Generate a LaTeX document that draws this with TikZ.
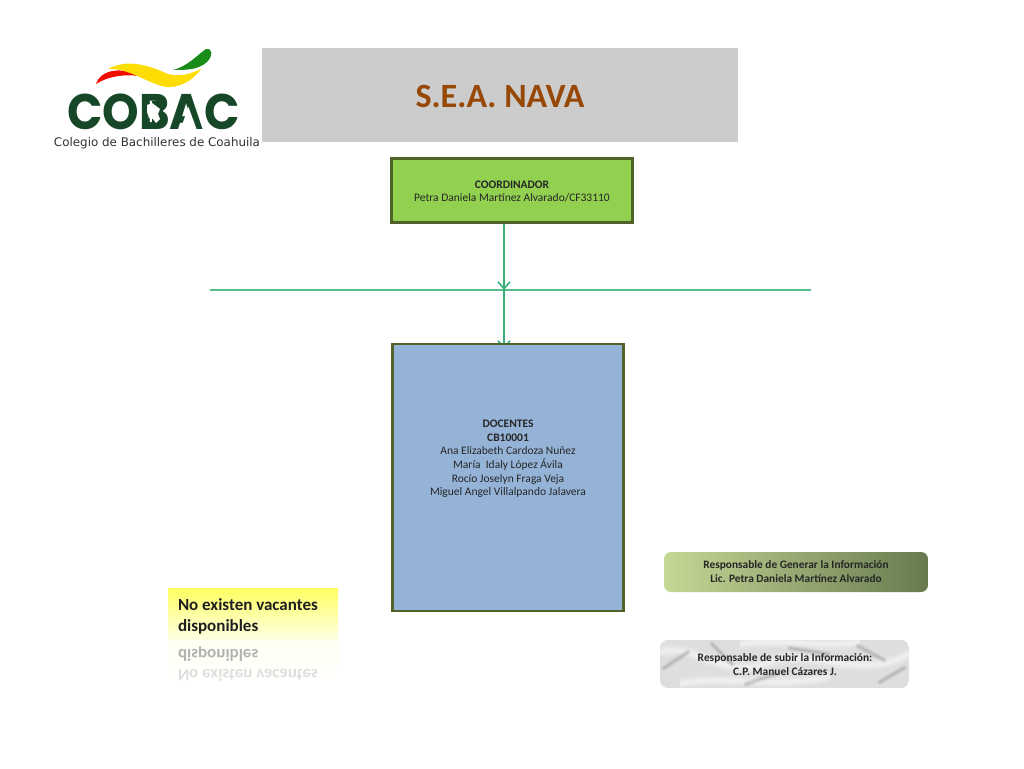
\documentclass[tikz,border=0pt]{standalone}
\usepackage{fontspec}
\setmainfont{Carlito}
\newfontfamily\logofont{Poppins}
\newfontfamily\logosub{DejaVu Sans}
\usetikzlibrary{arrows.meta,positioning,calc}
\definecolor{linkgreen}{RGB}{55,178,118}
\definecolor{hlinkgreen}{RGB}{85,190,140}
\definecolor{boxedge}{RGB}{79,98,40}
\definecolor{coordfill}{RGB}{146,208,80}
\definecolor{docfill}{RGB}{149,179,215}
\definecolor{titlegrey}{RGB}{204,204,204}
\definecolor{titletext}{RGB}{151,72,6}
\definecolor{cobacgreen}{RGB}{22,72,40}
\definecolor{genleft}{RGB}{198,216,150}
\definecolor{genright}{RGB}{103,122,78}
\tikzset{
  x=1pt,y=-1pt,
  every node/.style={inner sep=0pt,outer sep=0pt,align=center},
  orgbox/.style={draw=boxedge,line width=2.8pt},
  link/.style={draw=linkgreen,line width=1.5pt},
  tiplink/.style={link,-{Straight Barb[length=7pt,width=12pt,line width=1.6pt]}},
  smalltext/.style={font=\fontsize{11.5}{13.6}\selectfont,text=black!85},
}
\begin{document}
\begin{tikzpicture}
\useasboundingbox (0,0) rectangle (1024,768);
\fill[white] (0,0) rectangle (1024,768);

% title band
\node[fill=titlegrey,minimum width=476pt,minimum height=94pt] (title) at (500,95) {};
\node[font=\fontsize{34}{36}\selectfont\bfseries,text=titletext] (titletxt) at (500,96) {S.E.A. NAVA};

% logo swooshes
\fill[red!90!orange!95!black] (96,84) .. controls (100,70) and (122,66) .. (138,76)
   .. controls (126,74) and (108,76) .. (96,84) -- cycle;
\fill[yellow!80!orange] (108,69) .. controls (128,58) and (150,66) .. (168,74)
   .. controls (180,77) and (190,74) .. (201,69)
   .. controls (192,82) and (178,88) .. (166,87)
   .. controls (148,84) and (130,68) .. (108,69) -- cycle;
\fill[green!50!black!90] (173,70) .. controls (188,66) and (196,56) .. (206,49)
   .. controls (213,48) and (213,56) .. (207,62)
   .. controls (198,70) and (186,70) .. (173,70) -- cycle;
\node[font=\logofont\fontsize{50}{50}\selectfont\bfseries,text=cobacgreen,xscale=.93] (cobac) at (153.5,112) {COBAC};
% crossbar-free A and the state outline in the B
\fill[white] (188.5,107) -- (180.5,129) -- (196.5,129) -- cycle;
\fill[cobacgreen] (152,101) rectangle (163,124);
\fill[white] (147,105) -- (152,103) -- (156,106) -- (160,109) -- (158,114) -- (160,119) -- (156,123) -- (153,119) -- (149,118) -- (147,112) -- cycle;
\node[font=\logosub\fontsize{11.9}{12}\selectfont,text=black!80] (sub) at (157,143) {Colegio de Bachilleres de Coahuila};

% connectors
\coordinate (hleft) at (210,290);
\coordinate (hright) at (811,290);
\coordinate (junction) at (504,290);
\coordinate (belowjunction) at (504,349);
\coordinate (coordout) at (504,224);
\draw[link,draw=hlinkgreen,line width=1.3pt] (hleft) -- (hright);
\draw[tiplink] (coordout) -- (junction);
\draw[tiplink] (junction) -- (belowjunction);

% boxes
\node[orgbox,fill=coordfill,minimum width=241pt,minimum height=64pt] (coord) at (512,190.5) {};
\node[smalltext] (coordtxt) at (512,191.5)
  {\textbf{COORDINADOR}\\Petra Daniela Martínez Alvarado/CF33110};
\node[orgbox,fill=docfill,minimum width=231pt,minimum height=267pt] (doc) at (508,477.5) {};
\node[smalltext] (doctxt) at (508,459)
  {\textbf{DOCENTES}\\\textbf{CB10001}\\Ana Elizabeth Cardoza Nuñez\\María\ \ Idaly López Ávila\\Rocío Joselyn Fraga Veja\\Miguel Angel Villalpando Jalavera};

% vacancies
\shade[top color=yellow!62!white,bottom color=yellow!10!white] (168,588) rectangle (338,640);
\shade[top color=yellow!5!white,bottom color=white] (168,640) rectangle (338,684);
\node[anchor=north west,font=\fontsize{17}{21}\selectfont\bfseries,text=black!88,align=left] (vac) at (178,599)
  {No existen vacantes\\disponibles};
\node[anchor=west,yscale=-1,font=\fontsize{17}{20}\selectfont\bfseries,text=black!30] (mir1) at (178,654) {disponibles};
\node[anchor=west,yscale=-1,font=\fontsize{17}{20}\selectfont\bfseries,text=black!13] (mir2) at (178,675) {No existen vacantes};

% responsible: generate
\node[rounded corners=7pt,minimum width=264pt,minimum height=40pt,left color=genleft,right color=genright] (gen) at (796,572) {};
\node[font=\fontsize{11.35}{14}\selectfont\bfseries,text=black!85] (gentxt) at (796,572)
  {Responsable de Generar la Información\\Lic. Petra Daniela Martínez Alvarado};

% responsible: upload (marble)
\begin{scope}
  \clip[rounded corners=8pt] (660,640) rectangle (909,688);
  \fill[black!13] (660,640) rectangle (909,688);
  \foreach \w/\o in {12/.15,8/.2,4/.3}{
    \draw[white,line width=\w pt,opacity=\o] (660,652) .. controls (700,642) and (720,682) .. (770,662) .. controls (810,647) and (860,682) .. (909,654);
    \draw[white,line width=\w pt,opacity=\o] (680,684) .. controls (720,674) and (780,690) .. (830,676);
    \draw[white,line width=\w pt,opacity=\o] (740,644) .. controls (780,638) and (820,648) .. (860,642);
  }
  \foreach \w/\o in {6/.04,4/.05,2/.07}{
    \draw[black,line width=\w pt,opacity=\o,line cap=round] (664,668) -- (688,652) (712,644) -- (732,664) (746,684) -- (776,674) (858,646) -- (884,660) (880,682) -- (904,668) (790,648) -- (828,654);
  }
\end{scope}
\node[font=\fontsize{11.4}{14}\selectfont\bfseries,text=black!85] (up) at (785,665)
  {Responsable de subir la Información:\\C.P. Manuel Cázares J.};
\end{tikzpicture}
\end{document}
